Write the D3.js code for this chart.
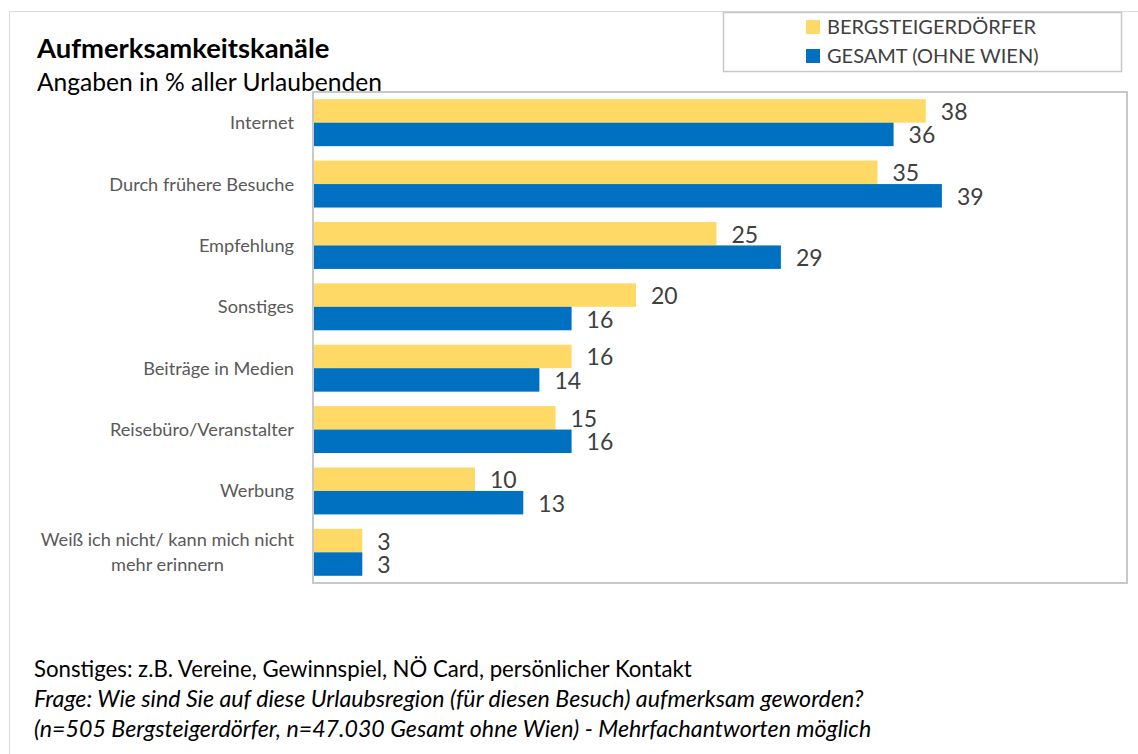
<!DOCTYPE html>
<html>
<head>
<meta charset="utf-8">
<script src="https://cdn.jsdelivr.net/npm/d3@7"></script>
<style>
  html, body { margin: 0; padding: 0; background: #ffffff; }
  svg { display: block; font-family: Lato, "Open Sans", sans-serif; }
</style>
</head>
<body>
<svg id="chart" width="1138" height="754"></svg>
<script>
// Categories (top to bottom); multi-line labels split with "\n"
const categories = [
  "Internet",
  "Durch frühere Besuche",
  "Empfehlung",
  "Sonstiges",
  "Beiträge in Medien",
  "Reisebüro/Veranstalter",
  "Werbung",
  "Weiß ich nicht/ kann mich nicht\nmehr erinnern"
];
const seriesNames = ["BERGSTEIGERDÖRFER", "GESAMT (OHNE WIEN)"];
const bergsteigerdoerfer = [38, 35, 25, 20, 16, 15, 10, 3];
const gesamtOhneWien = [36, 39, 29, 16, 14, 16, 13, 3];
const seriesColors = ["#FFD966", "#0070C0"];

const title = "Aufmerksamkeitskanäle";
const subtitle = "Angaben in % aller Urlaubenden";
const notes = [
  { text: "Sonstiges: z.B. Vereine, Gewinnspiel, NÖ Card, persönlicher Kontakt", italic: false },
  { text: "Frage: Wie sind Sie auf diese Urlaubsregion (für diesen Besuch) aufmerksam geworden?", italic: true },
  { text: "(n=505 Bergsteigerdörfer, n=47.030 Gesamt ohne Wien) - Mehrfachantworten möglich", italic: true }
];

const series = [bergsteigerdoerfer, gesamtOhneWien];
const rows = categories.map((c, i) => ({ cat: c, values: series.map(s => s[i]) }));

const svg = d3.select("#chart");

// Outer frame (only top and left edges fall inside the view)
svg.append("path")
  .attr("d", "M9.5,754 V11.5 H1138")
  .attr("fill", "none")
  .attr("stroke", "#d9d9d9")
  .attr("stroke-width", 1);

// Plot area
const plot = { left: 314, right: 1127, top: 92, bottom: 583 };
const x = d3.scaleLinear().domain([0, 50]).range([plot.left, 1119]);
const y = d3.scaleBand().domain(categories).range([plot.top, plot.bottom])
  .paddingInner(0.235).paddingOuter(0.1175);
const ySub = d3.scaleBand().domain(d3.range(series.length)).range([0, y.bandwidth()]);

svg.append("rect")
  .attr("x", plot.left - 1).attr("y", plot.top)
  .attr("width", plot.right - plot.left + 1).attr("height", plot.bottom - plot.top)
  .attr("fill", "#ffffff")
  .attr("stroke", "#c8c8c8")
  .attr("stroke-width", 2);

// Bars
const groups = svg.append("g").selectAll("g")
  .data(rows).join("g")
  .attr("transform", d => `translate(0,${y(d.cat)})`);

groups.selectAll("rect")
  .data(d => d.values.map((v, k) => ({ v, k })))
  .join("rect")
  .attr("x", x(0))
  .attr("y", d => ySub(d.k))
  .attr("width", d => x(d.v) - x(0))
  .attr("height", ySub.bandwidth())
  .attr("fill", d => seriesColors[d.k]);

// Value labels
groups.selectAll("text")
  .data(d => d.values.map((v, k) => ({ v, k })))
  .join("text")
  .attr("x", d => x(d.v) + 15)
  .attr("y", d => ySub(d.k) + ySub.bandwidth() / 2 + 9)
  .attr("font-size", 23)
  .attr("fill", "#404040")
  .text(d => d.v);

// Category axis labels (wrapped lines centred on each other, block right-aligned)
const labelRight = 294;
const catG = svg.append("g");
rows.forEach(r => {
  const lines = r.cat.split("\n");
  const t = catG.append("text")
    .attr("font-size", 18.2)
    .attr("fill", "#595959")
    .attr("text-anchor", "middle");
  const cy = y(r.cat) + y.bandwidth() / 2;
  const lh = 25;
  lines.forEach((ln, i) => {
    t.append("tspan").attr("data-line", i).text(ln);
  });
  // measure widest line to centre all lines within a right-aligned block
  const widths = [];
  t.selectAll("tspan").each(function () { widths.push(this.getComputedTextLength()); });
  const wMax = d3.max(widths);
  const cx = labelRight - wMax / 2;
  t.selectAll("tspan")
    .attr("x", cx)
    .attr("y", (dd, i) => cy + 6.5 + (i - (lines.length - 1) / 2) * lh);
});

// Title and subtitle
svg.append("text")
  .attr("x", 37).attr("y", 58)
  .attr("font-size", 27.4).attr("font-weight", "bold").attr("fill", "#000")
  .text(title);
svg.append("text")
  .attr("x", 37).attr("y", 91)
  .attr("font-size", 24.6).attr("fill", "#000")
  .text(subtitle);

// Legend
const legend = svg.append("g");
legend.append("rect")
  .attr("x", 723.5).attr("y", 12.5).attr("width", 398).attr("height", 59)
  .attr("fill", "#ffffff").attr("stroke", "#c8c8c8").attr("stroke-width", 1.5);
seriesNames.forEach((name, i) => {
  const ly = 20 + i * 29;
  legend.append("rect")
    .attr("x", 806).attr("y", ly).attr("width", 14).attr("height", 14)
    .attr("fill", seriesColors[i]);
  legend.append("text")
    .attr("x", 827).attr("y", ly + 13.5)
    .attr("font-size", 20).attr("fill", "#404040")
    .text(name);
});

// Footnotes
svg.append("g").selectAll("text")
  .data(notes).join("text")
  .attr("x", 34)
  .attr("y", (d, i) => 677 + i * 30)
  .attr("font-size", d => d.italic ? 23.2 : 22.2)
  .attr("font-style", d => d.italic ? "italic" : "normal")
  .attr("fill", "#000")
  .text(d => d.text);
</script>
</body>
</html>
